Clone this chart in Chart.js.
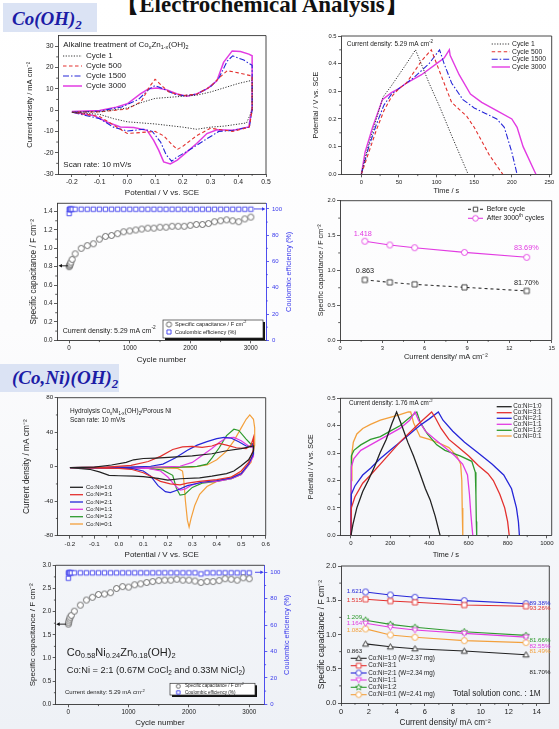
<!DOCTYPE html>
<html>
<head>
<meta charset="UTF-8">
<title>Electrochemical Analysis</title>
<script src="https://cdn.jsdelivr.net/npm/chart.js@4.4.0/dist/chart.umd.min.js"></script>
<style>
  body { margin: 0; background: #fff; }
  #page { position: relative; width: 559px; height: 729px; overflow: hidden;
          background: linear-gradient(#ffffff 0%, #fcfcfd 45%, #eef1f6 100%); }
  canvas { position: absolute; }
  .tag { position: absolute; background: #dbe3f4; color: #1c1ca6; box-sizing: border-box;
         font: italic bold 19px 'Liberation Serif', 'Times New Roman', serif; white-space: nowrap; }
  .tag sub { font-size: 13px; vertical-align: -4px; line-height: 0; }
  #head { position: absolute; left: 0; top: -6px; width: 524px; text-align: center; color: #111;
          font: bold 23px 'Liberation Serif', 'Times New Roman', serif; line-height: 22px; }
</style>
</head>
<body>
<div id="page">
  <div id="head">【Electrochemical Analysis】</div>
  <div class="tag" style="left:3px;top:3px;width:94px;height:29px;line-height:29px;padding:1px 0 0 9px;">Co(OH)<sub>2</sub></div>
  <div class="tag" style="left:0;top:364px;width:119px;height:28px;line-height:28px;padding-left:12px;">(Co,Ni)(OH)<sub>2</sub></div>
  <canvas id="cvCo"></canvas>
  <canvas id="gcdCo"></canvas>
  <canvas id="lifeCo"></canvas>
  <canvas id="rateCo"></canvas>
  <canvas id="cvNi"></canvas>
  <canvas id="gcdNi"></canvas>
  <canvas id="lifeNi"></canvas>
  <canvas id="rateNi"></canvas>
</div>

<script>
// ---------- data ----------

// Co(OH)2 CV loops: [potential V, current mA cm-2]
const cvCycle1 = [[-0.2,-1],[-0.1,-0.8],[0,1],[0.05,3.5],[0.1,5.5],[0.15,6],[0.2,6.5],[0.25,7],[0.3,8.5],[0.35,10.5],[0.4,12.5],[0.45,14],
  [0.45,0],[0.43,-6],[0.35,-7.5],[0.3,-8],[0.25,-9],[0.2,-8],[0.1,-6.5],[0,-5.5],[-0.05,-4],[-0.1,-2],[-0.2,-1]];
const cvCycle500 = [[-0.2,-1],[-0.1,-0.8],[0,0.5],[0.05,4],[0.08,11],[0.1,14.5],[0.12,12],[0.15,8.5],[0.2,6.8],[0.25,7.5],[0.3,11],[0.33,15],[0.36,18.5],[0.4,17.5],[0.45,16],
  [0.45,0],[0.44,-8],[0.38,-10],[0.3,-8.5],[0.25,-12],[0.2,-17],[0.18,-18.5],[0.16,-16],[0.13,-12],[0.1,-10],[0.05,-10.5],[0,-11],[-0.05,-7],[-0.1,-3],[-0.2,-1]];
const cvCycle1500 = [[-0.2,-1],[-0.1,-0.5],[-0.02,1.5],[0.04,5],[0.08,10],[0.1,11.5],[0.13,10],[0.17,7.5],[0.2,6.8],[0.25,7.5],[0.3,11],[0.33,15],[0.36,23],[0.38,25.5],[0.42,23.5],[0.45,21],
  [0.45,0],[0.44,-8],[0.38,-9.5],[0.33,-10],[0.28,-14],[0.22,-19],[0.18,-22],[0.16,-24],[0.14,-21],[0.12,-15],[0.09,-10],[0.06,-9],[0,-9.8],[-0.05,-8],[-0.1,-4],[-0.2,-1]];
const cvCycle3000 = [[-0.2,-0.6],[-0.1,-0.2],[-0.04,1.4],[0,3],[0.047,7.6],[0.077,10],[0.107,10.4],[0.143,9.5],[0.18,7.6],[0.215,6.5],[0.25,7.6],[0.287,10],[0.323,13.8],[0.347,22.4],[0.378,27.8],[0.408,27.5],[0.438,26.3],[0.45,25.5],
  [0.45,1.4],[0.438,-7.9],[0.383,-9.5],[0.323,-9.2],[0.287,-11],[0.25,-15.7],[0.215,-19.6],[0.18,-23.5],[0.155,-25.3],[0.131,-24.3],[0.113,-18.8],[0.095,-14.2],[0.071,-9.5],[0.023,-8.2],[-0.025,-7.9],[-0.074,-5.6],[-0.122,-2.5],[-0.2,-0.9]];

// Co(OH)2 charge / discharge: [time s, potential V]
const gcdCycle1 = [[0,0],[5,0.06],[10,0.11],[20,0.2],[29,0.28],[40,0.32],[50,0.36],[60,0.4],[72,0.45],[90,0.33],[104,0.245],[120,0.14],[142,0]];
const gcdCycle500 = [[0,0],[10,0.08],[20,0.16],[30,0.23],[40,0.28],[50,0.31],[60,0.33],[70,0.37],[80,0.41],[93,0.45],[100,0.4],[110,0.33],[120,0.26],[130,0.235],[140,0.21],[150,0.17],[160,0.12],[170,0.07],[188,0]];
const gcdCycle1500 = [[0,0],[10,0.1],[20,0.18],[30,0.25],[40,0.29],[50,0.31],[70,0.35],[90,0.4],[104,0.45],[110,0.4],[120,0.33],[135,0.27],[150,0.24],[165,0.22],[180,0.2],[190,0.17],[200,0.08],[207,0]];
const gcdCycle3000 = [[0,0],[5,0.08],[15,0.17],[28,0.27],[40,0.295],[50,0.31],[60,0.33],[80,0.36],[100,0.4],[110,0.42],[117,0.45],[118,0.43],[130,0.36],[145,0.29],[160,0.26],[180,0.23],[200,0.2],[207,0.17],[215,0.1],[232,0]];

// Co(OH)2 cycling: cycle number, capacitance F cm-2, coulombic efficiency %
const coCycle = [1,5,10,20,30,50,100,200,300,400,500,600,700,800,900,1000,1100,1200,1300,1400,1500,1600,1700,1800,1900,2000,2100,2200,2300,2400,2500,2600,2700,2800,2900,3000];
const coCap = [0.80,0.81,0.82,0.83,0.85,0.88,0.94,1.00,1.03,1.05,1.10,1.13,1.14,1.16,1.18,1.19,1.20,1.21,1.22,1.22,1.23,1.23,1.24,1.24,1.24,1.25,1.26,1.26,1.27,1.29,1.30,1.31,1.30,1.29,1.32,1.34];
const coEff = [96.5,99.6,99.8,99.8,99.8,99.8,99.8,99.8,99.8,99.8,99.8,99.8,99.8,99.8,99.8,99.8,99.8,99.8,99.8,99.8,99.8,99.8,99.8,99.8,99.8,99.8,99.8,99.8,99.8,99.8,99.8,99.8,99.8,99.8,99.8,99.8];

// rate capability: current density mA cm-2
const rateDensity = [1.76, 3.53, 5.29, 8.82, 13.23];
const coBefore = [0.863, 0.828, 0.799, 0.756, 0.705];
const coAfter = [1.418, 1.364, 1.325, 1.258, 1.187];

// (Co,Ni)(OH)2 CV loops: [potential V, current mA cm-2]
const cvNi10 = [[-0.2,-1],[-0.1,-0.5],[-0.03,2],[0.03,5],[0.06,8],[0.1,9.5],[0.15,10],[0.22,11],[0.3,12.5],[0.38,15],[0.44,18.5],[0.5,21],[0.55,24],
  [0.55,18],[0.53,8],[0.5,1],[0.47,-5],[0.44,-8],[0.38,-11],[0.33,-13],[0.25,-14],[0.2,-15.5],[0.16,-13.5],[0.1,-11.5],[0.06,-11],[0,-10.5],[-0.04,-10],[-0.08,-6],[-0.12,-3],[-0.2,-1]];
const cvNi31 = [[-0.2,-1],[-0.05,-0.5],[0.05,1.5],[0.12,6],[0.17,12],[0.22,20],[0.26,23],[0.3,23.5],[0.34,22.5],[0.38,24],[0.41,27],[0.44,25],[0.48,22],[0.52,21],[0.54,25],[0.55,34],
  [0.55,20],[0.53,5],[0.5,-5],[0.46,-12],[0.4,-15],[0.33,-17],[0.28,-19],[0.25,-21],[0.21,-20],[0.17,-17],[0.13,-11],[0.1,-7],[0.05,-3],[0,-2],[-0.2,-1]];
const cvNi21 = [[-0.2,-1],[0.05,-0.5],[0.13,0.5],[0.18,3],[0.23,10],[0.28,19],[0.32,25],[0.36,29],[0.4,32.5],[0.43,34],[0.46,33],[0.49,29],[0.52,24],[0.54,23],[0.55,27],
  [0.55,15],[0.53,3],[0.5,-8],[0.46,-13],[0.4,-16],[0.34,-18],[0.28,-22],[0.24,-27],[0.21,-30],[0.19,-29],[0.16,-22],[0.13,-11],[0.1,-5],[0.05,-2],[-0.2,-1]];
const cvNi11 = [[-0.2,-1],[0.15,-0.5],[0.25,0.5],[0.3,5],[0.34,13],[0.38,21],[0.41,28],[0.44,33.5],[0.47,34],[0.5,30],[0.53,24],[0.55,22],
  [0.55,12],[0.53,2],[0.5,-9],[0.46,-14],[0.4,-17],[0.34,-18],[0.3,-21],[0.27,-26],[0.25,-27],[0.23,-22],[0.2,-12],[0.17,-5],[0.12,-2],[-0.2,-1]];
const cvNi12 = [[-0.2,-1],[0.25,-0.5],[0.32,0.3],[0.36,3],[0.38,10],[0.41,22],[0.44,36],[0.47,43.5],[0.49,42],[0.52,32],[0.54,26],[0.55,27],
  [0.55,14],[0.53,2],[0.5,-9],[0.46,-14],[0.4,-17],[0.34,-19],[0.3,-24],[0.27,-32],[0.25,-33],[0.235,-25],[0.22,-10],[0.18,-4],[0.12,-2],[-0.2,-1]];
const cvNi01 = [[-0.2,-1],[0.3,-0.5],[0.36,2],[0.4,8],[0.44,18],[0.47,30],[0.5,45],[0.52,55],[0.535,60],[0.55,55],[0.555,45],
  [0.555,25],[0.54,5],[0.5,-7],[0.45,-13],[0.4,-17],[0.36,-23],[0.33,-32],[0.31,-45],[0.295,-60],[0.287,-70],[0.28,-62],[0.272,-40],[0.265,-15],[0.26,-5],[0.24,-2],[0.15,-1.5],[-0.2,-1]];

// (Co,Ni)(OH)2 charge / discharge: [time s, potential V]
const gcdNi10 = [[0,0],[10,0.04],[30,0.1],[60,0.16],[88,0.2],[120,0.25],[148,0.3],[180,0.35],[210,0.41],[233,0.45],[260,0.4],[290,0.34],[319,0.29],[350,0.23],[380,0.17],[404,0.13],[430,0.07],[455,0]];
const gcdNi31 = [[0,0],[2,0.1],[20,0.14],[60,0.19],[100,0.22],[150,0.26],[200,0.3],[250,0.34],[300,0.375],[350,0.41],[412,0.45],[430,0.43],[460,0.39],[500,0.35],[550,0.32],[600,0.29],[650,0.255],[700,0.225],[727,0.2],[760,0.15],[785,0.1],[800,0.05],[808,0]];
const gcdNi21 = [[0,0],[2,0.15],[20,0.18],[60,0.22],[100,0.245],[150,0.28],[200,0.31],[250,0.34],[300,0.37],[350,0.4],[400,0.425],[446,0.45],[470,0.42],[520,0.38],[580,0.34],[650,0.3],[720,0.26],[780,0.22],[820,0.17],[845,0.1],[855,0.05],[860,0]];
const gcdNi11 = [[0,0],[2,0.25],[15,0.28],[50,0.31],[100,0.33],[150,0.35],[200,0.37],[250,0.39],[300,0.42],[327,0.45],[345,0.42],[380,0.38],[430,0.35],[480,0.32],[530,0.29],[570,0.26],[595,0.22],[605,0.15],[612,0.08],[618,0.03],[622,0]];
const gcdNi12 = [[0,0],[2,0.29],[15,0.31],[50,0.33],[100,0.35],[150,0.36],[200,0.38],[250,0.4],[300,0.43],[336,0.45],[355,0.41],[390,0.37],[438,0.33],[480,0.31],[557,0.29],[617,0.27],[635,0.23],[638,0.15],[640,0.05],[642,0]];
const gcdNi01 = [[0,0],[2,0.2],[5,0.3],[12,0.34],[30,0.37],[60,0.39],[100,0.405],[150,0.42],[200,0.43],[250,0.44],[293,0.45],[305,0.45],[320,0.41],[353,0.36],[400,0.35],[455,0.335],[500,0.32],[540,0.29],[560,0.26],[566,0.2],[568,0.1],[571,0]];

// (Co,Ni)(OH)2 cycling
const niCycle = [1,5,10,20,30,50,100,200,300,400,500,600,700,800,900,1000,1100,1200,1300,1400,1500,1600,1700,1800,1900,2000,2100,2200,2300,2400,2500,2600,2700,2800,2900,3000];
const niCap = [1.73,1.76,1.80,1.84,1.88,1.92,2.01,2.14,2.25,2.31,2.37,2.38,2.41,2.50,2.54,2.53,2.58,2.60,2.63,2.65,2.67,2.68,2.68,2.70,2.68,2.68,2.66,2.63,2.65,2.65,2.67,2.71,2.70,2.68,2.73,2.71];
const niEff = [95.5,99.5,99.6,99.6,99.6,99.6,99.6,99.6,99.6,99.6,99.6,99.6,99.6,99.6,99.6,99.6,99.6,99.6,99.6,99.6,99.6,99.6,99.6,99.6,99.6,99.6,99.6,98.8,99.6,99.6,99.6,99.6,99.6,99.6,99.6,99.6];

// (Co,Ni)(OH)2 rate capability
const rateNi10 = [0.863, 0.822, 0.793, 0.759, 0.705];
const rateNi31 = [1.515, 1.489, 1.470, 1.430, 1.413];
const rateNi21 = [1.621, 1.577, 1.543, 1.494, 1.449];
const rateNi11 = [1.164, 1.105, 1.066, 1.017, 0.961];
const rateNi12 = [1.209, 1.148, 1.105, 1.041, 0.987];
const rateNi01 = [1.082, 0.993, 0.959, 0.910, 0.882];

// tick labels
const cvCoTicksX = [-0.2,-0.1,0,0.1,0.2,0.3,0.4,0.5];
const cvCoTicksY = [-30,-20,-10,0,10,20,30];
const gcdCoTicksX = [0,50,100,150,200,250];
const potTicks = [0,0.1,0.2,0.3,0.4,0.5];
const cycleTicks = [0,1000,2000,3000];
const capCoTicks = [0,0.2,0.4,0.6,0.8,1.0,1.2,1.4];
const effTicks = [0,20,40,60,80,100];
const rateCoTicksX = [0,3,6,9,12,15];
const capTicks2 = [0,0.5,1.0,1.5,2.0];
const cvNiTicksX = [-0.2,-0.1,0,0.1,0.2,0.3,0.4,0.5,0.6];
const cvNiTicksY = [-80,-40,0,40,80];
const gcdNiTicksX = [0,200,400,600,800,1000];
const capNiTicks = [0,0.5,1.0,1.5,2.0,2.5,3.0];
const rateNiTicksX = [0,2,4,6,8,10,12,14];

// ---------- drawing ----------
const FONT = "'Liberation Sans', Arial, Helvetica, sans-serif";
Chart.defaults.font.family = FONT;
Chart.defaults.color = '#222';

const INK = '#222', RED = '#e3302e', BLUE = '#2626d8', MAG = '#e23be2', GREEN = '#2e9a2e', ORANGE = '#f3a03c', GREY = '#5a5a5a', EFF = '#3a3aec';

function shape(g, type, x, y, r, color) {
  g.save(); g.lineWidth = 0.9; g.strokeStyle = color; g.fillStyle = '#fff'; g.setLineDash([]);
  g.beginPath();
  if (type === 'circle') g.arc(x, y, r, 0, 2 * Math.PI);
  else if (type === 'rect') g.rect(x - r * 0.85, y - r * 0.85, r * 1.7, r * 1.7);
  else if (type === 'tri' || type === 'tridown') {
    const d = type === 'tri' ? 1 : -1;
    g.moveTo(x, y - d * r); g.lineTo(x + r, y + d * r * 0.75); g.lineTo(x - r, y + d * r * 0.75); g.closePath();
  } else if (type === 'star') {
    for (let i = 0; i < 10; i++) {
      const a = -Math.PI / 2 + i * Math.PI / 5, rr = i % 2 ? r * 0.5 : r * 1.15;
      g.lineTo(x + rr * Math.cos(a), y + rr * Math.sin(a));
    }
    g.closePath();
  }
  g.fill(); g.stroke(); g.restore();
}

function mark(type, r, color) {
  const s = Math.ceil(2 * r + 5);
  const c = document.createElement('canvas');
  c.width = s; c.height = s;
  shape(c.getContext('2d'), type, s / 2, s / 2, r, color);
  return c;
}

function rich(ctx, str, x, y, size, color, align, bold) {
  const parts = [], re = /([_^])\{([^}]*)\}/g;
  let last = 0, m;
  while ((m = re.exec(str))) {
    if (m.index > last) parts.push([str.slice(last, m.index), 0]);
    parts.push([m[2], m[1] === '_' ? 1 : -1]);
    last = re.lastIndex;
  }
  if (last < str.length) parts.push([str.slice(last), 0]);
  const f = k => (bold ? 'bold ' : '') + (k ? size * 0.68 : size) + 'px ' + FONT;
  let w = 0;
  parts.forEach(p => { ctx.font = f(p[1]); w += ctx.measureText(p[0]).width; });
  let cx = align === 'center' ? x - w / 2 : align === 'right' ? x - w : x;
  ctx.fillStyle = color; ctx.textBaseline = 'middle'; ctx.textAlign = 'left';
  parts.forEach(p => {
    ctx.font = f(p[1]);
    const dy = p[1] > 0 ? size * 0.32 : p[1] < 0 ? -size * 0.38 : 0;
    ctx.fillText(p[0], cx, y + dy);
    cx += ctx.measureText(p[0]).width;
  });
}

function arrow(ctx, x0, y, x1, col) {
  const d = x1 > x0 ? 1 : -1;
  ctx.strokeStyle = col; ctx.fillStyle = col; ctx.lineWidth = 0.9; ctx.setLineDash([]);
  ctx.beginPath(); ctx.moveTo(x0, y); ctx.lineTo(x1 - d * 2, y); ctx.stroke();
  ctx.beginPath(); ctx.moveTo(x1, y); ctx.lineTo(x1 - d * 3.5, y - 1.8); ctx.lineTo(x1 - d * 3.5, y + 1.8); ctx.closePath(); ctx.fill();
}

// frame, minor ticks, in-plot notes and keys
const decoPlugin = {
  id: 'deco',
  afterDraw(chart, args, o) {
    const ctx = chart.ctx, a = chart.chartArea, ox = o.off[0], oy = o.off[1];
    ctx.save();
    ctx.setLineDash([]);
    Object.keys(chart.scales).forEach(k => {
      const s = chart.scales[k], v = s.ticks.map(t => t.value);
      ctx.strokeStyle = s.options.border.color; ctx.lineWidth = 0.8;
      for (let i = 0; i < v.length - 1; i++) {
        const p = s.getPixelForValue((v[i] + v[i + 1]) / 2);
        ctx.beginPath();
        if (k === 'x') { ctx.moveTo(p, a.bottom); ctx.lineTo(p, a.bottom + 1.8); }
        else if (k === 'y') { ctx.moveTo(a.left, p); ctx.lineTo(a.left - 1.8, p); }
        else { ctx.moveTo(a.right, p); ctx.lineTo(a.right + 1.8, p); }
        ctx.stroke();
      }
    });
    ctx.strokeStyle = '#333'; ctx.lineWidth = 0.9;
    ctx.beginPath(); ctx.moveTo(a.left, a.top); ctx.lineTo(a.right, a.top);
    if (!chart.scales.y2) ctx.lineTo(a.right, a.bottom);
    ctx.stroke();

    if (o.box) {
      const [bx, by, bw, bh] = o.box;
      ctx.fillStyle = '#111'; ctx.fillRect(bx - ox + 2, by - oy + 2, bw, bh);
      ctx.fillStyle = '#fff'; ctx.fillRect(bx - ox, by - oy, bw, bh);
      ctx.strokeStyle = '#333'; ctx.lineWidth = 0.7; ctx.strokeRect(bx - ox, by - oy, bw, bh);
    }
    (o.keys || []).forEach(k => {
      if (k.x1 > k.x0) {
        ctx.strokeStyle = k.c; ctx.lineWidth = k.w || 1.1; ctx.setLineDash(k.d || []);
        ctx.beginPath(); ctx.moveTo(k.x0 - ox, k.y - oy); ctx.lineTo(k.x1 - ox, k.y - oy); ctx.stroke();
        ctx.setLineDash([]);
      }
      if (k.m) ctx.drawImage(k.m, (k.x0 + k.x1) / 2 - ox - k.m.width / 2, k.y - oy - k.m.height / 2);
      rich(ctx, k.t, k.tx - ox, k.y - oy, k.s, k.tc || INK, 'left');
    });
    (o.texts || []).forEach(t => rich(ctx, t.t, t.x - ox, t.y - oy, t.s, t.c || INK, t.al || 'left'));
    (o.arrows || []).forEach(r => arrow(ctx, r.x0 - ox, chart.scales[r.ax].getPixelForValue(r.v), r.x1 - ox, r.c));
    if (o.rt) {
      ctx.save();
      ctx.translate(o.rt.x - ox, (a.top + a.bottom) / 2);
      ctx.rotate(-Math.PI / 2);
      rich(ctx, o.rt.t, 0, 0, o.rt.s, o.rt.c, 'center');
      ctx.restore();
    }
    ctx.restore();
  }
};

function axis(pos, min, max, ticks, dec, fs, title, tfs, tpad, col) {
  col = col || '#333';
  return {
    type: 'linear', position: pos, min: min, max: max,
    afterBuildTicks: s => { s.ticks = ticks.map(v => ({ value: v })); },
    ticks: { autoSkip: false, maxRotation: 0, padding: pos === 'right' ? 3 : 1.5, color: col === '#333' ? INK : col,
             font: { size: fs }, callback: v => Number(v).toFixed(dec) },
    grid: { drawOnChartArea: false, tickLength: 3, tickColor: col, lineWidth: 0.8 },
    border: { color: col, width: 0.9 },
    title: title ? { display: true, text: title, color: INK, font: { size: tfs }, padding: { top: tpad, bottom: tpad } } : { display: false }
  };
}

function curve(data, color, dash, w) {
  return { data: data, showLine: true, borderColor: color, borderWidth: w || 1.1, borderDash: dash || [], pointRadius: 0, tension: 0, fill: false };
}

function dots(xs, ys, style, axisId) {
  return { data: xs.map((x, i) => [x, ys[i]]), showLine: false, pointStyle: style, pointRadius: 3, yAxisID: axisId || 'y' };
}

function marked(xs, ys, color, style, dash) {
  return { data: xs.map((x, i) => [x, ys[i]]), showLine: true, borderColor: color, borderWidth: 1.1, borderDash: dash || [],
           pointStyle: mark(style, 3, color), pointRadius: 3, tension: 0 };
}

// cv = canvas [left, top, width, height], pa = plot area [left, top, right, bottom], all in page px
function plot(id, cv, pa, scales, datasets, deco) {
  const el = document.getElementById(id);
  el.width = cv[2]; el.height = cv[3];
  el.style.left = cv[0] + 'px'; el.style.top = cv[1] + 'px';
  const right = cv[0] + cv[2] - pa[2];
  scales.x.afterFit = s => { s.height = cv[1] + cv[3] - pa[3]; };
  scales.y.afterFit = s => { s.width = pa[0] - cv[0]; };
  if (scales.y2) scales.y2.afterFit = s => { s.width = right; };
  deco.off = [cv[0], cv[1]];
  return new Chart(el, {
    type: 'scatter',
    data: { datasets: datasets },
    options: {
      responsive: false, animation: false, events: [], devicePixelRatio: 1,
      layout: { autoPadding: false, padding: { left: 0, top: pa[1] - cv[1], right: scales.y2 ? 0 : right, bottom: 0 } },
      scales: scales,
      plugins: { legend: { display: false }, tooltip: { enabled: false }, deco: deco }
    },
    plugins: [decoPlugin]
  });
}

const DOT = [1.2, 1.5], DASH = [3.5, 2.5], DASHDOT = [6, 2, 1.5, 2];

// Co(OH)2 CV
plot('cvCo', [0, 30, 278, 170], [58, 35, 266, 174], {
  x: axis('bottom', -0.25, 0.5, cvCoTicksX, 1, 6.8, 'Potential / V vs. SCE', 8, 2.8),
  y: axis('left', -30, 35, cvCoTicksY, 0, 6.8, 'Current density / mA cm⁻²', 7.5, 25.5)
}, [
  curve(cvCycle1, '#333', DOT, 1),
  curve(cvCycle500, RED, DASH),
  curve(cvCycle1500, BLUE, DASHDOT),
  curve(cvCycle3000, MAG, [], 1.5)
], {
  texts: [
    { x: 63.3, y: 44.7, t: 'Alkaline treatment of Co_{x}Zn_{1-x}(OH)_{2}', s: 8 },
    { x: 63.3, y: 165, t: 'Scan rate: 10 mV/s', s: 8 }
  ],
  keys: [
    { x0: 63, x1: 82, y: 56, c: '#333', d: DOT, w: 1, tx: 86, t: 'Cycle 1', s: 8 },
    { x0: 63, x1: 82, y: 66, c: RED, d: DASH, tx: 86, t: 'Cycle 500', s: 8 },
    { x0: 63, x1: 82, y: 76, c: BLUE, d: DASHDOT, tx: 86, t: 'Cycle 1500', s: 8 },
    { x0: 63, x1: 82, y: 86, c: MAG, w: 1.5, tx: 86, t: 'Cycle 3000', s: 8 }
  ]
});

// Co(OH)2 charge / discharge
plot('gcdCo', [290, 30, 269, 170], [341, 36, 551.7, 174.3], {
  x: axis('bottom', -27, 253, gcdCoTicksX, 0, 5.8, 'Time / s', 7.3, 4.8),
  y: axis('left', 0, 0.5, potTicks, 1, 5.8, 'Potential / V vs. SCE', 7.2, 22.2)
}, [
  curve(gcdCycle1, '#333', DOT, 1),
  curve(gcdCycle500, RED, DASH),
  curve(gcdCycle1500, BLUE, DASHDOT),
  curve(gcdCycle3000, MAG, [], 1.4)
], {
  texts: [{ x: 346.7, y: 44, t: 'Current density: 5.29 mA cm^{-2}', s: 6.5 }],
  keys: [
    { x0: 491.7, x1: 510, y: 44, c: '#333', d: DOT, w: 1, tx: 512, t: 'Cycle 1', s: 6.8 },
    { x0: 491.7, x1: 510, y: 51.7, c: RED, d: DASH, tx: 512, t: 'Cycle 500', s: 6.8 },
    { x0: 491.7, x1: 510, y: 59.3, c: BLUE, d: DASHDOT, tx: 512, t: 'Cycle 1500', s: 6.8 },
    { x0: 491.7, x1: 510, y: 67, c: MAG, w: 1.4, tx: 512, t: 'Cycle 3000', s: 6.8 }
  ]
});

// Co(OH)2 cycling
plot('lifeCo', [0, 195, 300, 171], [57, 203.3, 266, 340.3], {
  x: axis('bottom', -200, 3250, cycleTicks, 0, 6.3, 'Cycle number', 8, 1.5),
  y: axis('left', 0, 1.49, capCoTicks, 1, 6.3, 'Specific capacitance / F cm⁻²', 8.2, 28.8),
  y2: axis('right', 0, 104.3, effTicks, 0, 6, null, 0, 0, EFF)
}, [
  dots(coCycle, coCap, mark('circle', 3, GREY)),
  dots(coCycle, coEff, mark('rect', 2.6, EFF), 'y2')
], {
  box: [163, 320, 100, 18],
  keys: [
    { x0: 169, x1: 169, y: 324.5, m: mark('circle', 2.6, GREY), tx: 175, t: 'Specific capacitance / F cm^{-2}', s: 5.6 },
    { x0: 169, x1: 169, y: 332, m: mark('rect', 2.4, EFF), tx: 175, t: 'Coulombic efficiency (%)', s: 5.6 }
  ],
  texts: [{ x: 62.7, y: 330.7, t: 'Current density: 5.29 mA cm^{-2}', s: 7 }],
  arrows: [
    { ax: 'y', v: 0.81, x0: 68, x1: 58.5, c: '#111' },
    { ax: 'y2', v: 100, x0: 254, x1: 265.5, c: EFF }
  ],
  rt: { t: 'Coulombic efficiency (%)', x: 289, s: 7.3, c: EFF }
});

// Co(OH)2 rate capability
plot('rateCo', [295, 195, 264, 171], [340, 200.7, 551.7, 340], {
  x: axis('bottom', 0, 15, rateCoTicksX, 0, 5.8, 'Current density/ mA cm⁻²', 7.5, 4.5),
  y: axis('left', 0, 2, capTicks2, 1, 5.8, 'Specific capacitance / F cm⁻²', 7.2, 22.2)
}, [
  marked(rateDensity, coBefore, '#333', 'rect', [3, 3]),
  marked(rateDensity, coAfter, MAG, 'circle')
], {
  keys: [
    { x0: 468, x1: 483, y: 209.3, c: '#333', d: [3, 3], m: mark('rect', 2.6, '#333'), tx: 486.7, t: 'Before cycle', s: 7 },
    { x0: 468, x1: 483, y: 218.3, c: MAG, m: mark('circle', 2.8, MAG), tx: 486.7, t: 'After 3000^{th} cycles', s: 7 }
  ],
  texts: [
    { x: 362.8, y: 234.3, t: '1.418', s: 7.3, c: MAG, al: 'center' },
    { x: 526.3, y: 247.7, t: '83.69%', s: 7.3, c: MAG, al: 'center' },
    { x: 365, y: 271, t: '0.863', s: 7.3, al: 'center' },
    { x: 526.3, y: 283.3, t: '81.70%', s: 7.3, al: 'center' }
  ]
});

// (Co,Ni)(OH)2 CV
const niColors = [INK, RED, BLUE, MAG, GREEN, ORANGE];
const niNames = ['Co:Ni=1:0', 'Co:Ni=3:1', 'Co:Ni=2:1', 'Co:Ni=1:1', 'Co:Ni=1:2', 'Co:Ni=0:1'];
const cvNiRows = [487.3, 494.7, 502, 509.3, 516.7, 524];
plot('cvNi', [0, 392, 285, 170], [57.7, 397.7, 265.7, 535.7], {
  x: axis('bottom', -0.25, 0.6, cvNiTicksX, 1, 6.2, 'Potential / V vs. SCE', 8, 2.8),
  y: axis('left', -80, 80, cvNiTicksY, 0, 6.2, 'Current density / mA cm⁻²', 8.3, 22.2)
}, [cvNi10, cvNi31, cvNi21, cvNi11, cvNi12, cvNi01].map((d, i) => curve(d, niColors[i], [], 1.2)), {
  texts: [
    { x: 70, y: 411.5, t: 'Hydrolysis Co_{x}Ni_{1-x}(OH)_{2}/Porous Ni', s: 6.5 },
    { x: 70, y: 420.5, t: 'Scan rate: 10 mV/s', s: 6.5 }
  ],
  keys: niNames.map((n, i) => ({ x0: 70, x1: 83, y: cvNiRows[i], c: niColors[i], w: 1.3, tx: 86, t: n, s: 5.9 }))
});

// (Co,Ni)(OH)2 charge / discharge
const gcdNiRows = [406.7, 412.7, 418.3, 424.3, 430.3, 436];
plot('gcdNi', [295, 392, 264, 170], [340, 398.3, 551.7, 535.3], {
  x: axis('bottom', -56, 1025, gcdNiTicksX, 0, 6, 'Time / s', 7.5, 2.8),
  y: axis('left', 0, 0.5, potTicks, 1, 6, 'Potential / V vs. SCE', 7, 12.2)
}, [gcdNi10, gcdNi31, gcdNi21, gcdNi11, gcdNi12, gcdNi01].map((d, i) => curve(d, niColors[i], [], 1.3)), {
  texts: [{ x: 349, y: 403.3, t: 'Current density: 1.76 mA cm^{-2}', s: 6.3 }],
  keys: niNames.map((n, i) => ({ x0: 496.7, x1: 511.7, y: gcdNiRows[i], c: niColors[i], w: 1.3, tx: 513.3, t: n, s: 6.3 }))
});

// (Co,Ni)(OH)2 cycling
plot('lifeNi', [0, 558, 300, 171], [55.7, 565.3, 264.3, 704.3], {
  x: axis('bottom', -209, 3250, cycleTicks, 0, 6.3, 'Cycle number', 8, 1.2),
  y: axis('left', 0, 3, capNiTicks, 1, 6.3, 'Specific capacitance / F cm⁻²', 8, 27.8),
  y2: axis('right', 0, 105.3, effTicks, 0, 6, null, 0, 0, EFF)
}, [
  dots(niCycle, niCap, mark('circle', 3, GREY)),
  dots(niCycle, niEff, mark('rect', 2.6, EFF), 'y2')
], {
  box: [170, 683.3, 85, 11.7],
  keys: [
    { x0: 178.3, x1: 178.3, y: 686.2, m: mark('circle', 2, GREY), tx: 185, t: 'Specific capacitance / F cm^{-2}', s: 4.6 },
    { x0: 178.3, x1: 178.3, y: 692.4, m: mark('rect', 2, EFF), tx: 185, t: 'Coulombic efficiency (%)', s: 4.6 }
  ],
  texts: [
    { x: 66.7, y: 652.7, t: 'Co_{0.58}Ni_{0.24}Zn_{0.18}(OH)_{2}', s: 11 },
    { x: 66.7, y: 670.7, t: 'Co:Ni = 2:1 (0.67M CoCl_{2} and 0.33M NiCl_{2})', s: 9.3 },
    { x: 65, y: 692.7, t: 'Current density: 5.29 mA cm^{-2}', s: 6 }
  ],
  arrows: [
    { ax: 'y', v: 1.73, x0: 66, x1: 56.2, c: '#111' },
    { ax: 'y2', v: 100, x0: 255, x1: 263.8, c: EFF }
  ],
  rt: { t: 'Coulombic efficiency (%)', x: 286.7, s: 7.3, c: EFF }
});

// (Co,Ni)(OH)2 rate capability
const rateNiStyles = ['tri', 'rect', 'circle', 'tridown', 'star', 'circle'];
const rateNiNames = ['Co:Ni=1:0 (W=2.37 mg)', 'Co:Ni=3:1', 'Co:Ni=2:1 (W=2.34 mg)', 'Co:Ni=1:1', 'Co:Ni=1:2', 'Co:Ni=0:1 (W=2.41 mg)'];
const rateNiRows = [658.3, 665.7, 673, 680, 687.3, 694.7];
plot('rateNi', [295, 558, 264, 171], [341, 566, 549.3, 703], {
  x: axis('bottom', 0, 14.9, rateNiTicksX, 0, 7.5, 'Current density/ mA cm⁻²', 8.2, 1.5),
  y: axis('left', 0, 2, capTicks2, 1, 7.5, 'Specific capacitance / F cm⁻²', 8.5, 21.9)
}, [rateNi10, rateNi31, rateNi21, rateNi11, rateNi12, rateNi01].map((d, i) => marked(rateDensity, d, niColors[i], rateNiStyles[i])), {
  keys: rateNiNames.map((n, i) => ({ x0: 350.7, x1: 366.7, y: rateNiRows[i], c: niColors[i], m: mark(rateNiStyles[i], 2.8, niColors[i]), tx: 368.3, t: n, s: 6.3 })),
  texts: [
    { x: 346.7, y: 591.7, t: '1.621', s: 6.2, c: BLUE },
    { x: 346.7, y: 600, t: '1.515', s: 6.2, c: RED },
    { x: 346.7, y: 617.7, t: '1.209', s: 6.2, c: GREEN },
    { x: 346.7, y: 623.3, t: '1.164', s: 6.2, c: MAG },
    { x: 346.7, y: 630, t: '1.082', s: 6.2, c: ORANGE },
    { x: 346.7, y: 651.7, t: '0.863', s: 6.2 },
    { x: 529.5, y: 603.3, t: '89.38%', s: 6.2, c: BLUE },
    { x: 529.5, y: 608.6, t: '93.26%', s: 6.2, c: RED },
    { x: 529.5, y: 640, t: '81.66%', s: 6.2, c: GREEN },
    { x: 529.5, y: 646, t: '82.55%', s: 6.2, c: MAG },
    { x: 529.5, y: 651.7, t: '81.49%', s: 6.2, c: ORANGE },
    { x: 529.5, y: 672.3, t: '81.70%', s: 6.2 },
    { x: 452.7, y: 694, t: 'Total solution conc. : 1M', s: 8.2 }
  ]
});
</script>
</body>
</html>
